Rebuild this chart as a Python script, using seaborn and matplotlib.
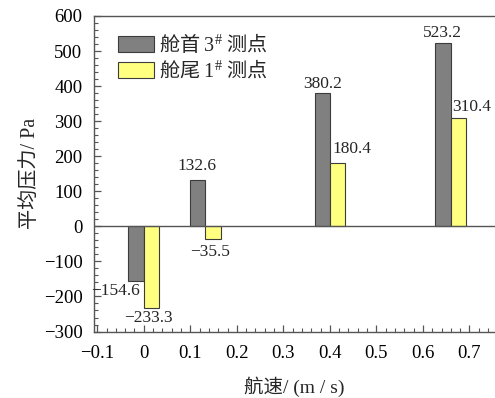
import matplotlib
matplotlib.use("Agg")
import matplotlib.pyplot as plt
from matplotlib.ticker import MultipleLocator
import seaborn as sns
import pandas as pd

# Ship speed (m/s) and mean pressure (Pa) at the two measuring points
speeds = [0.0, 0.132, 0.40, 0.66]
bow_3 = [-154.6, 132.6, 380.2, 523.2]
stern_1 = [-233.3, -35.5, 180.4, 310.4]
series_names = ["舱首 $\\mathrm{3}^{\\#}$ 测点", "舱尾 $\\mathrm{1}^{\\#}$ 测点"]
colors = ["#808080", "#FFFF80"]
bar_w = 0.033

# label offsets (pixels) for the value annotations
bow_off = [(-21, -10), (-1, 14), (0, 9), (-1, 10)]
stern_off = [(-3, -10), (-3, -13), (14, 14), (13, 11)]

sns.set_style("ticks")
plt.rcParams["font.family"] = ["Liberation Serif", "Noto Sans CJK SC"]
plt.rcParams["mathtext.fontset"] = "custom"
plt.rcParams["mathtext.rm"] = "Liberation Serif"
plt.rcParams["mathtext.it"] = "Liberation Serif:italic"
plt.rcParams["axes.unicode_minus"] = True

rows = []
for s, v in zip(speeds, bow_3):
    rows.append({"pos": round(s - bar_w / 2, 4), "val": v, "series": "bow"})
for s, v in zip(speeds, stern_1):
    rows.append({"pos": round(s + bar_w / 2, 4), "val": v, "series": "stern"})
df = pd.DataFrame(rows)

fig = plt.figure(figsize=(4.95, 3.98), dpi=100)
ax = fig.add_axes([0.189, 0.167, 0.811, 0.7928])

sns.barplot(data=df, x="pos", y="val", hue="series", palette=colors,
            saturation=1, native_scale=True, dodge=False, errorbar=None,
            width=1.0, edgecolor="#3c3c3c", linewidth=0.8, ax=ax, legend=False)

# make every bar exactly bar_w wide around its position
for p in ax.patches:
    cx = p.get_x() + p.get_width() / 2
    p.set_x(cx - bar_w / 2)
    p.set_width(bar_w)

ax.axhline(0, color="#555555", lw=1.0, zorder=3)

ax.set_xlim(-0.108, 0.755)
ax.set_ylim(-300, 600)
ax.xaxis.set_major_locator(MultipleLocator(0.1))
ax.xaxis.set_minor_locator(MultipleLocator(0.02))
ax.yaxis.set_major_locator(MultipleLocator(100))
ax.yaxis.set_minor_locator(MultipleLocator(20))
ax.xaxis.set_major_formatter(plt.FuncFormatter(
    lambda v, _: "0" if abs(v) < 1e-9 else f"{v:.1f}".replace("-", "\u2212")))
ax.yaxis.set_major_formatter(plt.FuncFormatter(
    lambda v, _: f"{v:.0f}".replace("-", "\u2212")))

ax.tick_params(which="both", direction="in", color="#555555", labelsize=13.5,
               labelcolor="black", top=False, right=False)
ax.tick_params(which="major", length=5, width=0.9)
ax.tick_params(which="minor", length=3, width=0.8)
ax.tick_params(axis="x", pad=10)
ax.tick_params(axis="y", pad=8)

for side in ["left", "bottom", "top"]:
    ax.spines[side].set_color("#555555")
    ax.spines[side].set_linewidth(1.0)
ax.spines["right"].set_visible(False)

ax.set_xlabel("航速/ (m / s)", fontsize=14, labelpad=10)
ax.set_ylabel("平均压力/ Pa", fontsize=14.5, labelpad=3)

# value labels
for s, v, off in zip(speeds, bow_3, bow_off):
    ax.annotate(f"{v:.1f}".replace("-", "\u2212"), (s - bar_w / 2, v),
                xytext=off, textcoords="offset pixels", ha="center",
                va="center", fontsize=12.5)
for s, v, off in zip(speeds, stern_1, stern_off):
    ax.annotate(f"{v:.1f}".replace("-", "\u2212"), (s + bar_w / 2, v),
                xytext=off, textcoords="offset pixels", ha="center",
                va="center", fontsize=12.5)

handles = [plt.Rectangle((0, 0), 1, 1, facecolor=c, edgecolor="#3c3c3c", lw=0.8)
           for c in colors]
leg = ax.legend(handles, series_names, loc="upper left", frameon=False,
                prop={"family": "Noto Sans CJK SC", "size": 14.5},
                handlelength=1.82, handleheight=0.85, handletextpad=0.25,
                labelspacing=0.15, borderaxespad=0.4,
                bbox_to_anchor=(0.02, 1.0))

fig.savefig("out.png", dpi=100)
